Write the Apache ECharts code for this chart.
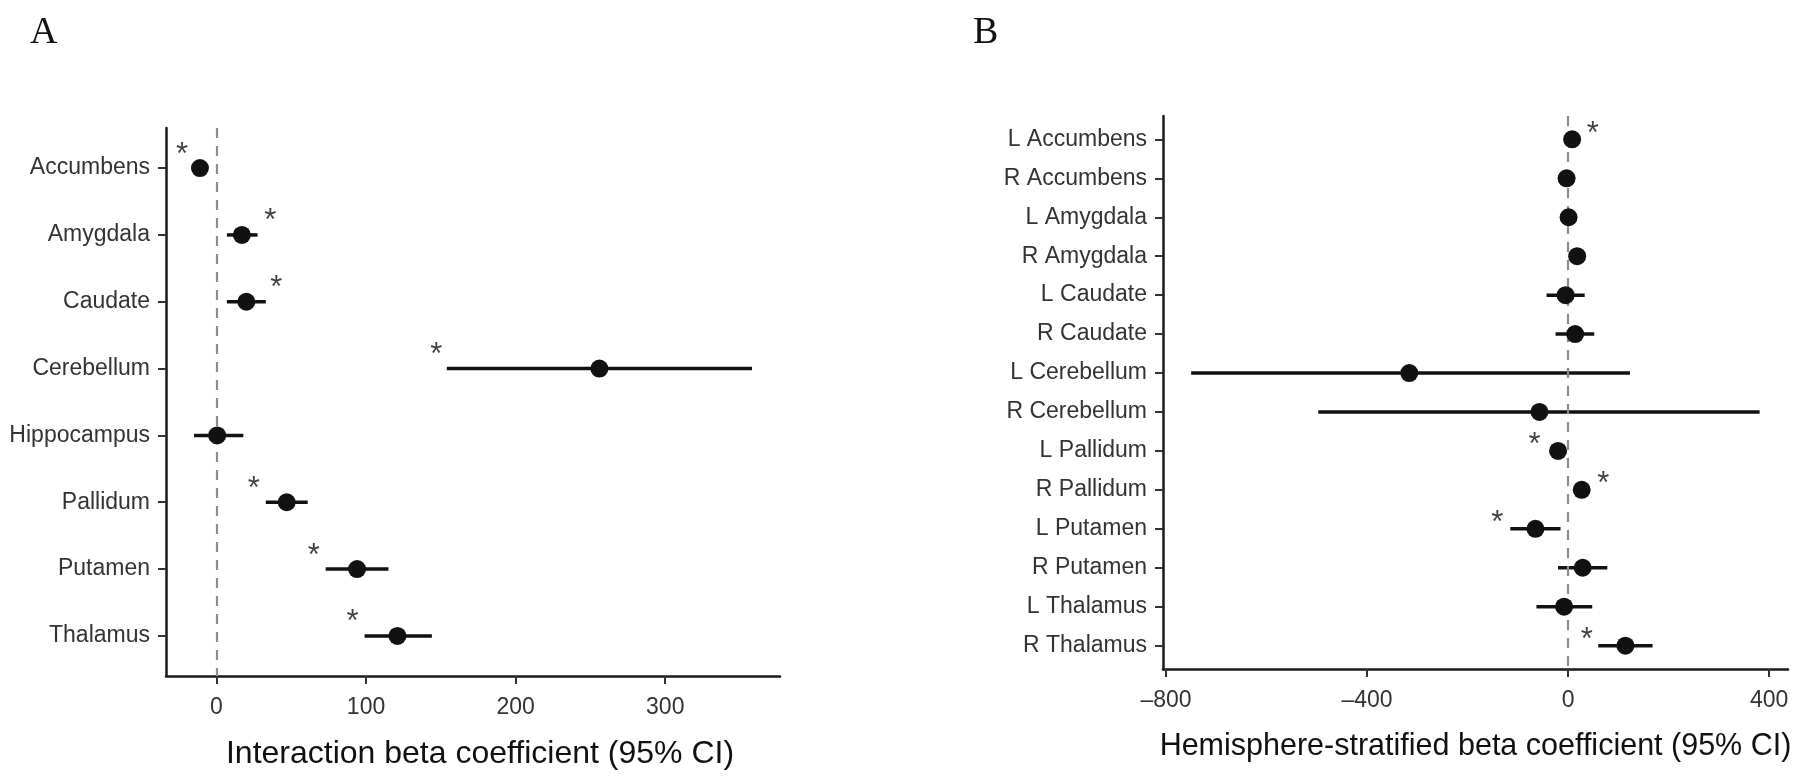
<!DOCTYPE html>
<html><head><meta charset="utf-8">
<script src="https://cdn.jsdelivr.net/npm/echarts@6/dist/echarts.min.js"></script>
<style>html,body{margin:0;padding:0;background:#fff}#c{width:1800px;height:776px}</style>
</head><body><div id="c"></div>
<script>
// Panel A
const catsA = ['Accumbens','Amygdala','Caudate','Cerebellum','Hippocampus','Pallidum','Putamen','Thalamus'];
const estA  = [-11, 17, 20, 256, 0.5, 47, 94, 121];
const loA   = [-14, 7, 7, 154, -15, 33, 73, 99];
const hiA   = [-8, 27.5, 33, 358, 18, 61, 115, 144];
const starA = [-23, 36, 40, 147, null, 25, 65, 91];
const ticksA = [0, 100, 200, 300];
const titleA = 'Interaction beta coefficient (95% CI)';

// Panel B
const catsB = ['L Accumbens','R Accumbens','L Amygdala','R Amygdala','L Caudate','R Caudate','L Cerebellum','R Cerebellum','L Pallidum','R Pallidum','L Putamen','R Putamen','L Thalamus','R Thalamus'];
const estB  = [8, -3, 1, 18, -5, 14, -316, -57, -20, 27, -65, 29, -8, 114];
const loB   = [3, -8, -4, 12, -43, -25, -750, -497, -26, 21, -115, -20, -63, 60];
const hiB   = [13, 2, 6, 24, 33, 52, 123, 381, -14, 33, -15, 78, 48, 168];
const starB = [49, null, null, null, null, null, null, null, -67, 70, -141, null, null, 37];
const ticksB = [-800, -400, 0, 400];
const titleB = 'Hemisphere-stratified beta coefficient (95% CI)';

const FONT = 'Liberation Sans, Arial, Helvetica, sans-serif';
const INK = '#111';

function rows(n){ return Array.from({length:n}, (_, i) => i + 1); }

function xAxisCfg(gi, min, max, ticks, name, nameSize, namePad){
  return {
    gridIndex: gi, type: 'value', min: min, max: max,
    name: name, nameLocation: 'middle', nameGap: 62,
    nameTextStyle: {fontSize: nameSize, color: '#111', fontFamily: FONT, padding: namePad},
    axisLine: {show: true, onZero: false, lineStyle: {color: '#1a1a1a', width: 2.5}},
    axisTick: {show: true, length: 8, customValues: ticks, lineStyle: {color: '#333', width: 2}},
    axisLabel: {customValues: ticks, margin: 20, fontSize: 23, color: '#333', fontFamily: FONT,
      formatter: v => (v < 0 ? '\u2013' + Math.abs(v) : String(v))},
    splitLine: {show: false}
  };
}
function yAxisCfg(gi, cats){
  const r = rows(cats.length);
  return {
    gridIndex: gi, type: 'value', inverse: true, min: 0.4, max: cats.length + 0.6,
    axisLine: {show: true, onZero: false, lineStyle: {color: '#1a1a1a', width: 2.5}},
    axisTick: {show: true, length: 8, customValues: r, lineStyle: {color: '#333', width: 2}},
    axisLabel: {customValues: r, margin: 16, fontSize: 23, color: '#333', fontFamily: FONT,
      formatter: v => cats[Math.round(v) - 1]},
    splitLine: {show: false}
  };
}
function zeroSeries(gi, est){
  return {
    type: 'scatter', xAxisIndex: gi, yAxisIndex: gi, z: 1, silent: true,
    symbolSize: 0, data: est.map((e, i) => [e, i + 1]),
    markLine: {silent: true, symbol: 'none', label: {show: false}, animation: false,
      lineStyle: {color: '#8c8c8c', type: [10, 8], width: 2.2, opacity: 1},
      data: [{xAxis: 0}]}
  };
}
function ciSeries(gi, lo, hi){
  return {
    type: 'custom', xAxisIndex: gi, yAxisIndex: gi, z: 3, silent: true,
    data: lo.map((l, i) => [l, hi[i], i + 1]),
    encode: {x: [0, 1], y: 2},
    renderItem: (params, api) => {
      const a = api.coord([api.value(0), api.value(2)]);
      const b = api.coord([api.value(1), api.value(2)]);
      return {type: 'line', shape: {x1: a[0], y1: a[1], x2: b[0], y2: b[1]},
        style: {stroke: INK, lineWidth: 3.5}};
    }
  };
}
function ptSeries(gi, est){
  return {
    type: 'scatter', xAxisIndex: gi, yAxisIndex: gi, z: 5, silent: true,
    symbol: 'circle', symbolSize: 18, itemStyle: {color: INK, opacity: 1},
    data: est.map((e, i) => [e, i + 1])
  };
}
function starSeries(gi, stars, dy){
  const d = [];
  stars.forEach((s, i) => { if (s !== null) d.push([s, i + 1]); });
  return {
    type: 'scatter', xAxisIndex: gi, yAxisIndex: gi, z: 6, silent: true,
    symbol: 'circle', symbolSize: 1, itemStyle: {color: 'rgba(0,0,0,0)'},
    data: d,
    label: {show: true, position: 'inside', formatter: '*', fontSize: 31,
      color: '#111', fontFamily: FONT, offset: [0, dy]}
  };
}

const chart = echarts.init(document.getElementById('c'), null, {renderer: 'canvas'});
chart.setOption({
  animation: false,
  backgroundColor: '#fff',
  grid: [
    {left: 166, top: 128, width: 614, height: 548},
    {left: 1163, top: 116, width: 625, height: 553}
  ],
  xAxis: [xAxisCfg(0, -33.7, 376.7, ticksA, titleA, 32, [0, 0, 0, 14]),
          xAxisCfg(1, -806, 437.5, ticksB, titleB, 30.5, [0, 0, 0, 0])],
  yAxis: [yAxisCfg(0, catsA), yAxisCfg(1, catsB)],
  graphic: [
    {type: 'text', left: 30, top: 14, style: {text: 'A', font: '38px "Liberation Serif", "Times New Roman", serif', fill: '#111'}},
    {type: 'text', left: 973, top: 14, style: {text: 'B', font: '38px "Liberation Serif", "Times New Roman", serif', fill: '#111'}}
  ],
  series: [
    zeroSeries(0, estA), ciSeries(0, loA, hiA), ptSeries(0, estA), starSeries(0, starA, -13),
    zeroSeries(1, estB), ciSeries(1, loB, hiB), ptSeries(1, estB), starSeries(1, starB, -5)
  ]
});
</script></body></html>
